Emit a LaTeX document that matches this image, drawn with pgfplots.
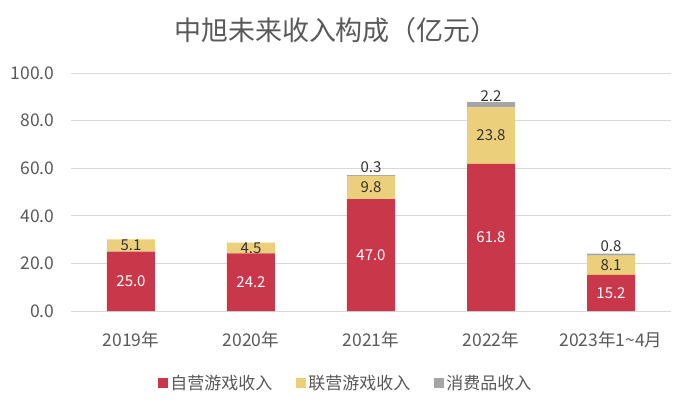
\documentclass[border=0pt]{standalone}
\usepackage{pgfplots}
\pgfplotsset{compat=1.18}
\usepackage{pgfplotstable}
\usepackage{fontspec}
\setmainfont{Noto Sans CJK SC}
\definecolor{cred}{HTML}{C9374A}
\definecolor{cyel}{HTML}{EBCF7B}
\definecolor{cgray}{HTML}{A5A5A5}
\definecolor{ctext}{HTML}{595959}
\definecolor{cgrid}{HTML}{D9D9D9}
\pgfplotstableread{
x red lred yel lyel gray lgray
0 25.0 25.0 5.1 5.1 0 {}
1 24.2 24.2 4.5 4.5 0 {}
2 47.0 47.0 9.8 9.8 0.3 0.3
3 61.8 61.8 23.8 23.8 2.2 2.2
4 15.2 15.2 8.1 8.1 0.8 0.8
}\datatable
\begin{document}
\begin{tikzpicture}
\useasboundingbox (-71pt,-94pt) rectangle (610pt,311pt);
\begin{axis}[
  at={(0pt,0pt)}, anchor=south west,
  scale only axis, width=600pt, height=238pt,
  xmin=-0.5, xmax=4.5, ymin=0, ymax=100,
  ybar stacked, bar width=48pt,
  axis line style={draw=none},
  major tick length=0pt,
  ymajorgrids, grid style={cgrid, line width=0.8pt},
  ytick={0,20,40,60,80,100},
  xtick={0,1,2,3,4},
  xticklabels={2019年,2020年,2021年,2022年,2023年1{\textasciitilde}4月},
  /pgf/number format/.cd, fixed, fixed zerofill, precision=1, assume math mode=true,
  /pgfplots/.cd,
  tick label style={text=ctext, font=\fontsize{17.5}{18}\selectfont},
  yticklabel style={xshift=-13pt},
  xticklabel style={yshift=-17pt},
  point meta=explicit symbolic,
  nodes near coords,
  clip=false,
  legend style={at={(0.458,-0.3025)}, anchor=center, draw=none, legend columns=3,
    font=\fontsize{17}{17}\selectfont, text=ctext,
    /tikz/every even column/.append style={column sep=22pt}},
  legend image code/.code={\fill[#1] (0pt,-5pt) rectangle (10pt,5pt);},
]
\addplot[fill=cred, draw=none,
  every node near coord/.style={font=\fontsize{15}{15}\selectfont, text=white, anchor=center}]
  table[x=x, y=red, meta=lred] {\datatable};
\addlegendentry{自营游戏收入}
\addplot[fill=cyel, draw=none,
  every node near coord/.style={font=\fontsize{15}{15}\selectfont, text=black!80, anchor=center}]
  table[x=x, y=yel, meta=lyel] {\datatable};
\addlegendentry{联营游戏收入}
\addplot[fill=cgray, draw=none,
  every node near coord/.style={font=\fontsize{15}{15}\selectfont, text=black!80, anchor=south, inner sep=1pt, yshift=1.5pt}]
  table[x=x, y=gray, meta=lgray] {\datatable};
\addlegendentry{消费品收入}
\end{axis}
\node[text=ctext, font=\fontsize{27}{27}\selectfont] at (265pt,281pt) {中旭未来收入构成（亿元）};
\end{tikzpicture}
\end{document}
